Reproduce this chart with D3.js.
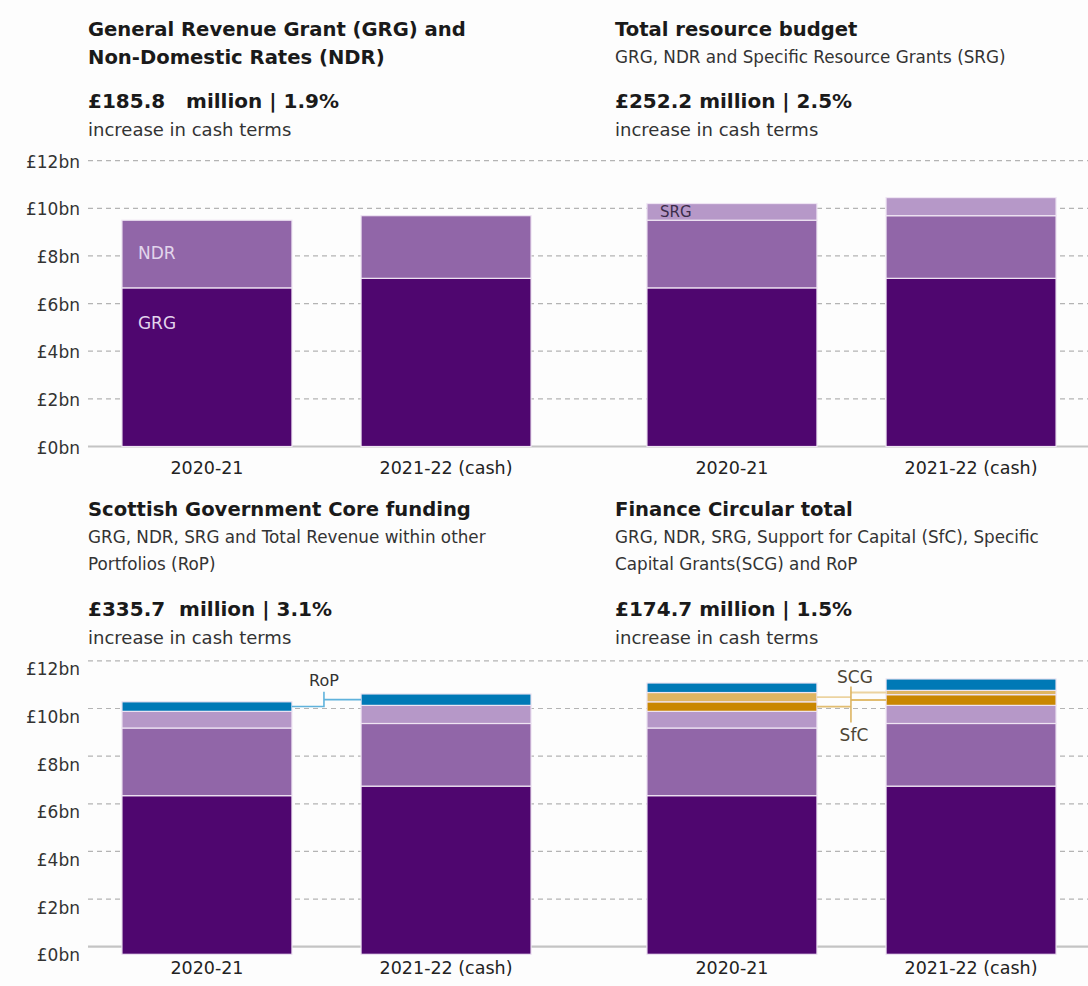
<!DOCTYPE html>
<html>
<head>
<meta charset="utf-8">
<script src="https://cdn.jsdelivr.net/npm/d3@7"></script>
<style>
  html, body { margin: 0; padding: 0; background: #fdfdfd; }
  svg { display: block; font-family: "DejaVu Sans", sans-serif; }
  text { white-space: pre; }
</style>
</head>
<body>
<svg id="chart" width="1088" height="986"></svg>
<script>
// Local government funding, £bn
const periods = ["2020-21", "2021-22 (cash)"];
const grg = [6.66, 7.06];   // General Revenue Grant
const ndr = [2.84, 2.63];   // Non-Domestic Rates
const srg = [0.70, 0.76];   // Specific Resource Grants
const sfc = [0.40, 0.45];   // Support for Capital
const scg = [0.39, 0.18];   // Specific Capital Grants
const rop = [0.40, 0.48];   // Total Revenue within other Portfolios
const yTicks = [0, 2, 4, 6, 8, 10, 12];
const yTickLabels = ["£0bn", "£2bn", "£4bn", "£6bn", "£8bn", "£10bn", "£12bn"];

const seriesDefs = {
  GRG: { values: grg, color: "#4f066f" },
  NDR: { values: ndr, color: "#9166a8" },
  SRG: { values: srg, color: "#b698c8" },
  SfC: { values: sfc, color: "#c98700" },
  SCG: { values: scg, color: "#dfb562" },
  RoP: { values: rop, color: "#0079b6" }
};

const panels = [
  {
    row: 0, col: 0,
    title: ["General Revenue Grant (GRG) and", "Non-Domestic Rates (NDR)"],
    subtitle: [],
    headline: "£185.8   million | 1.9%",
    series: ["GRG", "NDR"]
  },
  {
    row: 0, col: 1,
    title: ["Total resource budget"],
    subtitle: ["GRG, NDR and Specific Resource Grants (SRG)"],
    headline: "£252.2 million | 2.5%",
    series: ["GRG", "NDR", "SRG"]
  },
  {
    row: 1, col: 0,
    title: ["Scottish Government Core funding"],
    subtitle: ["GRG, NDR, SRG and Total Revenue within other", "Portfolios (RoP)"],
    headline: "£335.7  million | 3.1%",
    series: ["GRG", "NDR", "SRG", "RoP"]
  },
  {
    row: 1, col: 1,
    title: ["Finance Circular total"],
    subtitle: ["GRG, NDR, SRG, Support for Capital (SfC), Specific", "Capital Grants(SCG) and RoP"],
    headline: "£174.7 million | 1.5%",
    series: ["GRG", "NDR", "SRG", "SfC", "SCG", "RoP"]
  }
];

// Layout
const colX = [{ x0: 88, x1: 565, textX: 88 }, { x0: 613, x1: 1090, textX: 615 }];
const rows = [
  { zeroY: 446.5, gridShift: 0, titleY: 30, headY: 102 },
  { zeroY: 954.3, gridShift: -7.6, titleY: 510, headY: 610 }
];
const pxPerBn = 23.82;
const gridX0 = 88, gridX1 = 1088;

const svg = d3.select("#chart");
svg.append("rect").attr("width", 1088).attr("height", 986).attr("fill", "#fdfdfd");

// Gridlines, baselines and y axis labels per row
rows.forEach(r => {
  const y = d3.scaleLinear().domain([0, 12]).range([r.zeroY, r.zeroY - 12 * pxPerBn]);
  r.y = y;
  const g = svg.append("g");
  g.selectAll("line.grid")
    .data(yTicks.filter(t => t > 0))
    .join("line")
    .attr("x1", gridX0).attr("x2", gridX1)
    .attr("y1", d => y(d) + r.gridShift).attr("y2", d => y(d) + r.gridShift)
    .attr("stroke", "#b4b4b4").attr("stroke-width", 1.2)
    .attr("stroke-dasharray", "5,4");
  g.append("line")
    .attr("x1", gridX0).attr("x2", gridX1)
    .attr("y1", y(0) + r.gridShift).attr("y2", y(0) + r.gridShift)
    .attr("stroke", "#c4c4c4").attr("stroke-width", 2.2);
  g.selectAll("text.tick")
    .data(yTicks)
    .join("text")
    .attr("x", 80)
    .attr("y", d => y(d) + 2)
    .attr("text-anchor", "end")
    .attr("dominant-baseline", "middle")
    .attr("font-size", 17)
    .attr("fill", "#333")
    .text((d, i) => yTickLabels[i]);
});

panels.forEach(p => {
  const r = rows[p.row];
  const c = colX[p.col];
  const y = r.y;
  const x = d3.scaleBand().domain(periods).range([c.x0, c.x1]).paddingInner(0.289).paddingOuter(0.142);

  // Text block
  const tg = svg.append("g");
  let ty = r.titleY;
  p.title.forEach(line => {
    tg.append("text").attr("x", c.textX).attr("y", ty).attr("dominant-baseline", "middle")
      .attr("font-size", 19.6).attr("font-weight", 700).attr("fill", "#1a1a1a").text(line);
    ty += 28;
  });
  p.subtitle.forEach(line => {
    tg.append("text").attr("x", c.textX).attr("y", ty).attr("dominant-baseline", "middle")
      .attr("font-size", 16.8).attr("fill", "#333").text(line);
    ty += 27;
  });
  tg.append("text").attr("x", c.textX).attr("y", r.headY).attr("dominant-baseline", "middle")
    .attr("font-size", 20).attr("font-weight", 700).attr("fill", "#1a1a1a").text(p.headline);
  tg.append("text").attr("x", c.textX).attr("y", r.headY + 29).attr("dominant-baseline", "middle")
    .attr("font-size", 18).attr("fill", "#333").text("increase in cash terms");

  // Stacked bars
  const rowsData = periods.map((period, i) => {
    const o = { period };
    p.series.forEach(k => { o[k] = seriesDefs[k].values[i]; });
    return o;
  });
  const stacked = d3.stack().keys(p.series)(rowsData);
  p.stacked = stacked;
  p.x = x;

  svg.append("g").selectAll("g")
    .data(stacked)
    .join("g")
    .attr("fill", d => seriesDefs[d.key].color)
    .selectAll("rect")
    .data(d => d)
    .join("rect")
    .attr("x", d => x(d.data.period))
    .attr("width", x.bandwidth())
    .attr("y", d => y(d[1]))
    .attr("height", d => y(d[0]) - y(d[1]))
    .attr("stroke", "#efe5f3")
    .attr("stroke-width", 1.2);

  // Category labels
  svg.append("g").selectAll("text")
    .data(periods)
    .join("text")
    .attr("x", d => x(d) + x.bandwidth() / 2)
    .attr("y", y(0) + r.gridShift + 22)
    .attr("text-anchor", "middle")
    .attr("dominant-baseline", "middle")
    .attr("font-size", 17.5)
    .attr("fill", "#222")
    .text(d => d);
});

// Middle of one stacked segment, in pixels
function segMid(p, key, i) {
  const s = p.stacked.find(d => d.key === key)[i];
  return rows[p.row].y((s[0] + s[1]) / 2);
}

// In-bar labels
{
  const p = panels[0];
  const x0 = p.x(periods[0]);
  const y = rows[p.row].y;
  svg.append("text").attr("x", x0 + 16).attr("y", segMid(p, "NDR", 0))
    .attr("dominant-baseline", "middle").attr("font-size", 17).attr("fill", "#e2d5ec").text("NDR");
  svg.append("text").attr("x", x0 + 16).attr("y", y(grg[0] - 1.5))
    .attr("dominant-baseline", "middle").attr("font-size", 17).attr("fill", "#e2d5ec").text("GRG");
}
{
  const p = panels[1];
  const x0 = p.x(periods[0]);
  svg.append("text").attr("x", x0 + 13).attr("y", segMid(p, "SRG", 0) + 1)
    .attr("dominant-baseline", "middle").attr("font-size", 15).attr("fill", "#3b2c4a").text("SRG");
}

// RoP connector
{
  const p = panels[2];
  const xr = p.x(periods[0]) + p.x.bandwidth();
  const xl = p.x(periods[1]);
  const xm = xr + 32;
  const y1 = segMid(p, "RoP", 0), y2 = segMid(p, "RoP", 1);
  svg.append("path")
    .attr("d", `M${xr},${y1}H${xm}V${y2 - 8}M${xm},${y2}H${xl}`)
    .attr("fill", "none").attr("stroke", "#5fb2dc").attr("stroke-width", 1.6);
  svg.append("text").attr("x", xm).attr("y", y2 - 18).attr("text-anchor", "middle")
    .attr("dominant-baseline", "middle").attr("font-size", 16).attr("fill", "#333").text("RoP");
}

// SCG / SfC connectors
{
  const p = panels[3];
  const xr = p.x(periods[0]) + p.x.bandwidth();
  const xl = p.x(periods[1]);
  const xm = xr + 34;
  const a1 = segMid(p, "SCG", 0), a2 = segMid(p, "SCG", 1);
  const b1 = segMid(p, "SfC", 0), b2 = segMid(p, "SfC", 1);
  svg.append("path")
    .attr("d", `M${xr},${a1}H${xm}M${xm},${a2}H${xl}`)
    .attr("fill", "none").attr("stroke", "#ecd3a0").attr("stroke-width", 1.8);
  svg.append("path")
    .attr("d", `M${xr},${b1}H${xm}M${xm},${b2}H${xl}`)
    .attr("fill", "none").attr("stroke", "#e2bd70").attr("stroke-width", 1.8);
  svg.append("path")
    .attr("d", `M${xm},${a2 - 6}V${b1 + 16}`)
    .attr("fill", "none").attr("stroke", "#ddb462").attr("stroke-width", 1.6);
  svg.append("text").attr("x", xm + 4).attr("y", a2 - 15).attr("text-anchor", "middle")
    .attr("dominant-baseline", "middle").attr("font-size", 17).attr("fill", "#4d4535").text("SCG");
  svg.append("text").attr("x", xm + 3).attr("y", b1 + 29).attr("text-anchor", "middle")
    .attr("dominant-baseline", "middle").attr("font-size", 17).attr("fill", "#4d4535").text("SfC");
}
</script>
</body>
</html>
